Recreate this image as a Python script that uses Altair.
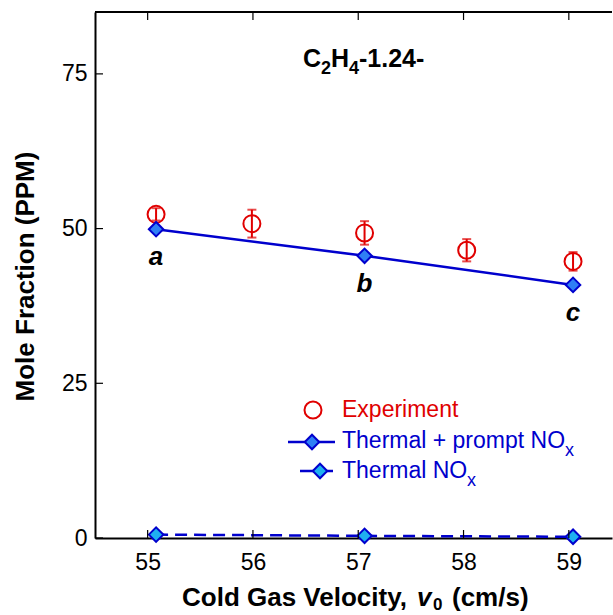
import altair as alt
import pandas as pd

# ---- data ----
exp_velocity = [55.08, 55.99, 57.06, 58.03, 59.04]
exp_ppm = [52.3, 50.8, 49.3, 46.5, 44.7]
exp_err = [1.0, 2.25, 1.9, 1.8, 1.5]

model_velocity = [55.08, 57.06, 59.04]
total_ppm = [49.9, 45.6, 40.9]      # Thermal + prompt NOx
thermal_ppm = [0.55, 0.35, 0.2]     # Thermal NOx
point_labels = ["a", "b", "c"]

x_ticks = [55, 56, 57, 58, 59]
y_ticks = [0, 25, 50, 75]

legend_labels = ["Experiment", "Thermal + prompt NO", "Thermal NO"]
title_parts = ["C", "2", "H", "4", "-1.24-"]
xtitle_parts = ["Cold Gas Velocity,", "v", "0", "(cm/s)"]
ytitle = "Mole Fraction (PPM)"

# ---- styling ----
W, H = 517, 526
FONT = "Liberation Sans"
RED = "#e00000"
BLUE = "#0000cd"
DFILL = "#2f7ff5"
TFILL = "#1fb0f0"

exp_df = pd.DataFrame({
    "v": exp_velocity,
    "ppm": exp_ppm,
    "lo": [p - e for p, e in zip(exp_ppm, exp_err)],
    "hi": [p + e for p, e in zip(exp_ppm, exp_err)],
})
model_df = pd.DataFrame({
    "v": model_velocity,
    "total": total_ppm,
    "thermal": thermal_ppm,
    "label": point_labels,
})
xt_df = pd.DataFrame({"v": x_ticks})
yt_df = pd.DataFrame({"ppm": y_ticks})

xs = alt.Scale(domain=[54.5, 59.41], nice=False, zero=False)
ys = alt.Scale(domain=[0, 85], nice=False, zero=False)

x_axis = alt.Axis(values=x_ticks, title=None, grid=False, ticks=False, tickSize=0,
                  labelFontSize=23, labelFont=FONT, labelColor="black", labelPadding=13,
                  domainColor="black", domainWidth=2, labelFlush=False)
y_axis = alt.Axis(values=y_ticks, title=ytitle, grid=False, ticks=False, tickSize=0,
                  labelFontSize=23, labelFont=FONT, labelColor="black", labelPadding=8,
                  domainColor="black", domainWidth=2, labelFlush=False,
                  titleFontSize=26, titleFont=FONT, titleFontWeight="bold", titleColor="black",
                  titleAngle=270, titleX=-70, titleY=264, titleAlign="center",
                  titleBaseline="middle")


def X(f):
    return alt.X(f, scale=xs, axis=x_axis)


def Y(f):
    return alt.Y(f, scale=ys, axis=y_axis)


# experiment: error bars, caps, open circles
err = alt.Chart(exp_df).mark_rule(color=RED, strokeWidth=2).encode(
    x=X("v:Q"), y=Y("lo:Q"), y2="hi:Q")
cap_hi = alt.Chart(exp_df).mark_tick(color=RED, orient="horizontal", size=9, thickness=2).encode(
    x=X("v:Q"), y=Y("hi:Q"))
cap_lo = alt.Chart(exp_df).mark_tick(color=RED, orient="horizontal", size=9, thickness=2).encode(
    x=X("v:Q"), y=Y("lo:Q"))
exp_pts = alt.Chart(exp_df).mark_point(shape="circle", filled=False, size=289, color=RED,
                                       strokeWidth=2, opacity=1).encode(
    x=X("v:Q"), y=Y("ppm:Q"))

# model lines
tot_line = alt.Chart(model_df).mark_line(color=BLUE, strokeWidth=2.5).encode(
    x=X("v:Q"), y=Y("total:Q"))
tot_pts = alt.Chart(model_df).mark_point(shape="diamond", filled=True, size=210, fill=DFILL,
                                         stroke=BLUE, strokeWidth=2, opacity=1).encode(
    x=X("v:Q"), y=Y("total:Q"))
th_line = alt.Chart(model_df).mark_line(color=BLUE, strokeWidth=2.5, strokeDash=[12, 7]).encode(
    x=X("v:Q"), y=Y("thermal:Q"))
th_pts = alt.Chart(model_df).mark_point(shape="diamond", filled=True, size=210, fill=TFILL,
                                        stroke=BLUE, strokeWidth=2, opacity=1).encode(
    x=X("v:Q"), y=Y("thermal:Q"))
lab = alt.Chart(model_df).mark_text(font=FONT, fontSize=26, fontWeight="bold", fontStyle="italic",
                                    color="black", dy=36, baseline="alphabetic", align="center").encode(
    x=X("v:Q"), y=Y("total:Q"), text="label:N")

# inward ticks and top frame
bt = alt.Chart(xt_df).mark_rule(color="black", strokeWidth=1.2).encode(
    x=X("v:Q"), y=alt.value(H), y2=alt.value(H - 8))
tt = alt.Chart(xt_df).mark_rule(color="black", strokeWidth=1.2).encode(
    x=X("v:Q"), y=alt.value(0), y2=alt.value(8))
lt = alt.Chart(yt_df).mark_rule(color="black", strokeWidth=1.2).encode(
    y=Y("ppm:Q"), x=alt.value(0), x2=alt.value(8))
top = alt.Chart(xt_df).mark_rule(color="black", strokeWidth=2).encode(
    x=alt.value(0), x2=alt.value(W), y=alt.value(0))


def txt(s, x, y, size, color="black", weight="normal", style="normal"):
    return alt.Chart(pd.DataFrame({"t": [s]})).mark_text(
        font=FONT, fontSize=size, fontWeight=weight, fontStyle=style, color=color,
        align="left", baseline="alphabetic").encode(
        x=alt.value(x), y=alt.value(y), text="t:N")


# title C2H4-1.24-
title_layers = [
    txt(title_parts[0], 208, 55, 25, weight="bold"),
    txt(title_parts[1], 226, 62, 18, weight="bold"),
    txt(title_parts[2], 236, 55, 25, weight="bold"),
    txt(title_parts[3], 254, 62, 18, weight="bold"),
    txt(title_parts[4], 264, 55, 25, weight="bold"),
]

# x-axis title
xtitle_layers = [
    txt(xtitle_parts[0], 87, 594, 26, weight="bold"),
    txt(xtitle_parts[1], 322, 594, 26, weight="bold", style="italic"),
    txt(xtitle_parts[2], 338, 598, 17, weight="bold"),
    txt(xtitle_parts[3], 357, 594, 26, weight="bold"),
]

# legend
leg_df = pd.DataFrame({"k": [0]})
leg_circle = alt.Chart(leg_df).mark_point(shape="circle", filled=False, size=289, color=RED,
                                          strokeWidth=2, opacity=1).encode(
    x=alt.value(218), y=alt.value(398))
leg_line1 = alt.Chart(leg_df).mark_rule(color=BLUE, strokeWidth=2.5).encode(
    x=alt.value(193), x2=alt.value(240), y=alt.value(430))
leg_d1 = alt.Chart(leg_df).mark_point(shape="diamond", filled=True, size=210, fill=DFILL,
                                      stroke=BLUE, strokeWidth=2, opacity=1).encode(
    x=alt.value(217), y=alt.value(430))
leg_line2 = alt.Chart(leg_df).mark_rule(color=BLUE, strokeWidth=2.5).encode(
    x=alt.value(205), x2=alt.value(238), y=alt.value(459))
leg_d2 = alt.Chart(leg_df).mark_point(shape="diamond", filled=True, size=210, fill=TFILL,
                                      stroke=BLUE, strokeWidth=2, opacity=1).encode(
    x=alt.value(225), y=alt.value(459))
legend_layers = [
    leg_circle, leg_line1, leg_d1, leg_line2, leg_d2,
    txt(legend_labels[0], 247, 405, 23, color=RED),
    txt(legend_labels[1], 247, 436, 23, color=BLUE),
    txt("x", 470, 444, 18, color=BLUE),
    txt(legend_labels[2], 247, 466, 23, color=BLUE),
    txt("x", 372, 474, 18, color=BLUE),
]

chart = alt.layer(
    err, cap_hi, cap_lo, exp_pts,
    tot_line, th_line, tot_pts, th_pts, lab,
    bt, tt, lt, top,
    *title_layers, *xtitle_layers, *legend_layers,
).properties(
    width=W, height=H,
    autosize=alt.AutoSizeParams(type="none"),
    padding={"left": 95, "top": 12, "right": 1, "bottom": 77},
    background="white",
).configure_view(stroke=None)

chart.save("out.html", embed_options={"renderer": "svg", "actions": False})
